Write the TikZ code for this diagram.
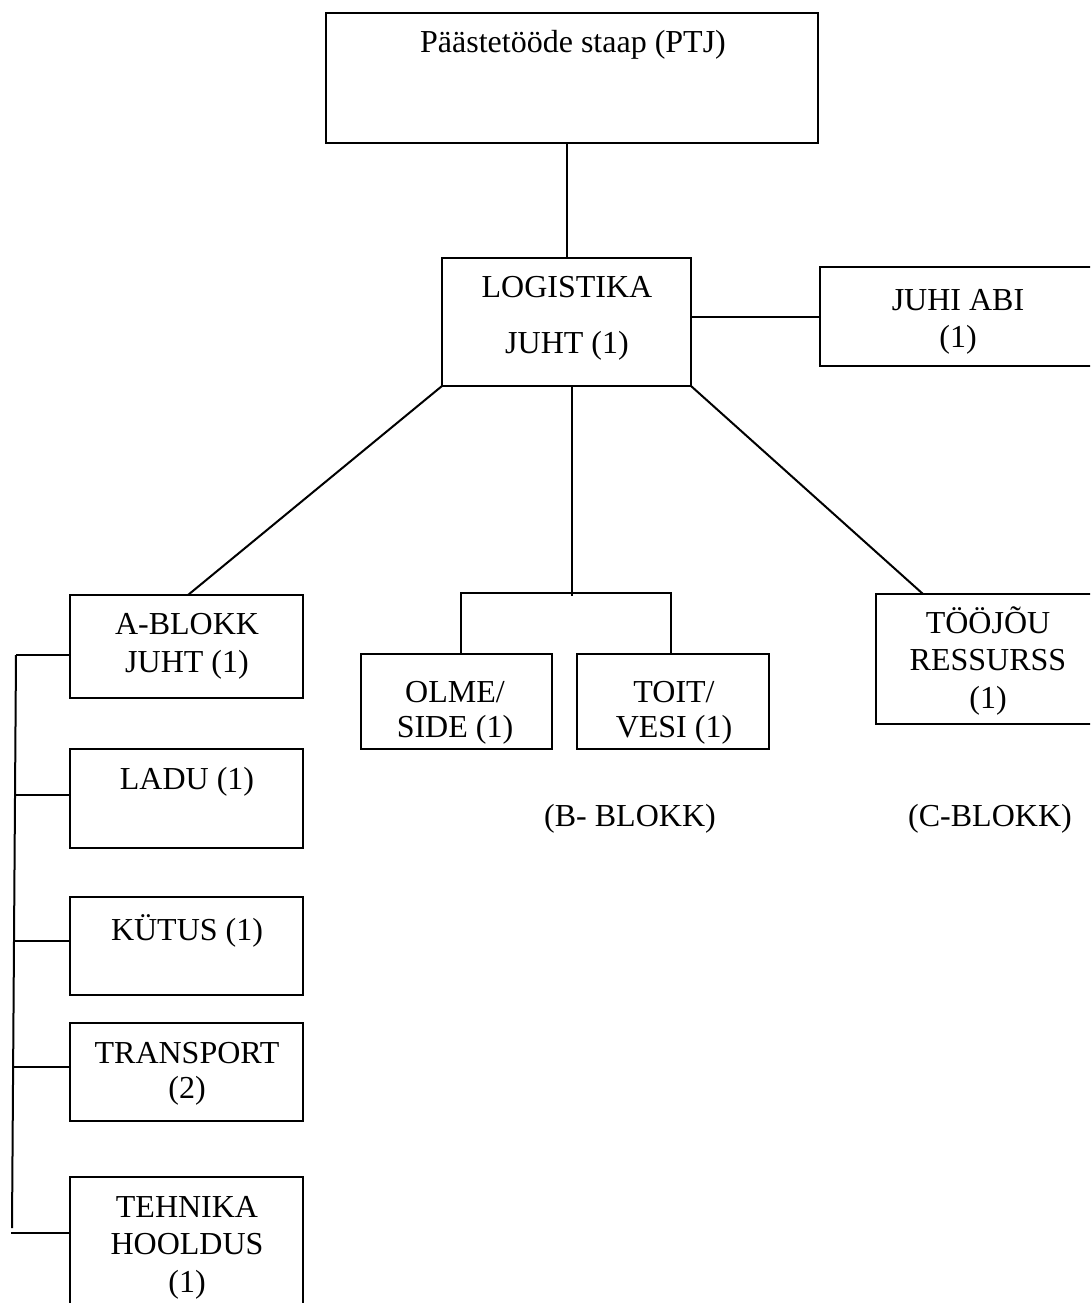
\documentclass[tikz,border=0pt]{standalone}
\usepackage{fontspec}
\setmainfont{Liberation Serif}
\begin{document}
\begin{tikzpicture}[x=1pt,y=-1pt,
  box/.style={draw=black, line width=2pt, rectangle, inner sep=0pt, outer sep=0pt, anchor=north west},
  txt/.style={inner sep=0pt, anchor=base, align=center, font=\fontsize{32}{37}\selectfont},
  conn/.style={draw=black, line width=2pt}]
\clip (0,0) rectangle (1090,1303);
\useasboundingbox (0,0) rectangle (1090,1303);
% boxes
\node[box, minimum width=492pt, minimum height=130pt] (top) at (326,13) {};
\node[box, minimum width=249pt, minimum height=128pt] (log) at (442,258) {};
\node[box, minimum width=277pt, minimum height=99pt] (abi) at (820,267) {};
\node[box, minimum width=233pt, minimum height=103pt] (ablk) at (70,595) {};
\node[box, minimum width=233pt, minimum height=99pt] (ladu) at (70,749) {};
\node[box, minimum width=233pt, minimum height=98pt] (kut) at (70,897) {};
\node[box, minimum width=233pt, minimum height=98pt] (tra) at (70,1023) {};
\node[box, minimum width=233pt, minimum height=140pt] (teh) at (70,1177) {};
\node[box, minimum width=191pt, minimum height=95pt] (olme) at (361,654) {};
\node[box, minimum width=192pt, minimum height=95pt] (toit) at (577,654) {};
\node[box, minimum width=222pt, minimum height=130pt] (tooj) at (876,594) {};
% texts (anchor base = baseline of the last line)
\node[txt] (tTop) at (573,53) {Päästetööde staap (PTJ)};
\node[txt, font=\fontsize{32}{56}\selectfont] (tLog) at (567,353) {LOGISTIKA\\JUHT (1)};
\node[txt] (tAbi) at (958,347) {JUHI ABI\\(1)};
\node[txt, font=\fontsize{32}{38}\selectfont] (tAblk) at (187,672) {A-BLOKK\\JUHT (1)};
\node[txt] (tLadu) at (187,789) {LADU (1)};
\node[txt] (tKut) at (187,940) {KÜTUS (1)};
\node[txt, font=\fontsize{32}{35}\selectfont] (tTra) at (187,1098) {TRANSPORT\\(2)};
\node[txt, font=\fontsize{32}{37.5}\selectfont] (tTeh) at (187,1292) {TEHNIKA\\HOOLDUS\\(1)};
\node[txt, font=\fontsize{32}{35}\selectfont] (tOlme) at (455,737) {OLME/\\SIDE (1)};
\node[txt, font=\fontsize{32}{35}\selectfont] (tToit) at (674,737) {TOIT/\\VESI (1)};
\node[txt, font=\fontsize{32}{37.5}\selectfont] (tTooj) at (988,708) {TÖÖJÕU\\RESSURSS\\(1)};
\node[txt] (tB) at (630,826) {(B- BLOKK)};
\node[txt] (tC) at (990,826) {(C-BLOKK)};
% coordinates
\coordinate (bJend) at (572,596);
\coordinate (bL) at (461,593);
\coordinate (bR) at (671,593);
\coordinate (jA) at (16,655);
\coordinate (jL) at (15,795);
\coordinate (jK) at (14,941);
\coordinate (jT) at (13.1,1067);
\coordinate (busEnd) at (12,1228);
\coordinate (jH) at (11,1233);
% connectors
\draw[conn] (top.south -| 567,0) -- (log.north -| 567,0);
\draw[conn] (log.east |- abi.west) -- (abi.west);
\draw[conn] (log.south west) -- (ablk.north -| 188,0);
\draw[conn] (log.south east) -- (tooj.north -| 923,0);
\draw[conn] (log.south -| 572,0) -- (bJend);
\draw[conn] (olme.north -| bL) -- (bL) -- (bR) -- (toit.north -| bR);
\draw[conn] (jA) -- (busEnd);
\draw[conn] (jA) -- (ablk.west |- jA);
\draw[conn] (jL) -- (ladu.west |- jL);
\draw[conn] (jK) -- (kut.west |- jK);
\draw[conn] (jT) -- (tra.west |- jT);
\draw[conn] (jH) -- (teh.west |- jH);
\end{tikzpicture}
\end{document}
